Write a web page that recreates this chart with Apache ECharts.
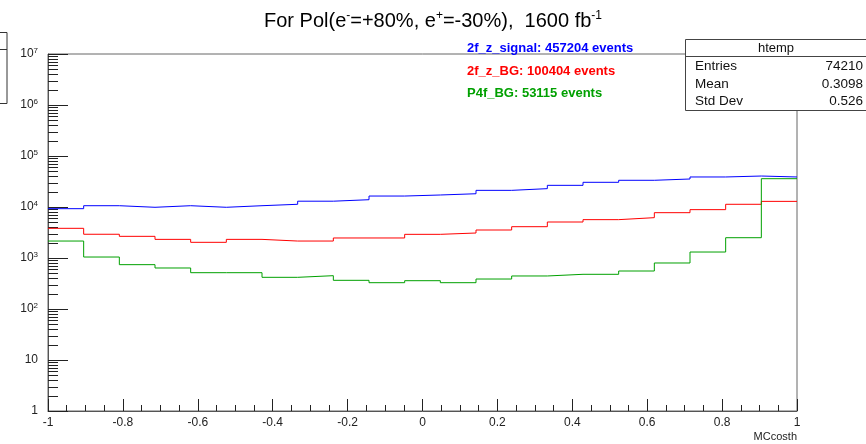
<!DOCTYPE html>
<html>
<head>
<meta charset="utf-8">
<script src="https://cdn.jsdelivr.net/npm/echarts@6/dist/echarts.min.js"></script>
<style>html,body{margin:0;padding:0;background:#fff;}#c{width:866px;height:444px;}</style>
</head>
<body>
<div id="c"></div>
<script>
// ---- data ----
const xMin = -1, xMax = 1, nBins = 21;
const xTickLabels = ['-1', '-0.8', '-0.6', '-0.4', '-0.2', '0', '0.2', '0.4', '0.6', '0.8', '1'];
const signal = [9270, 10600, 9870, 10600, 9870, 10600, 11300, 13000, 13900, 16400, 17200, 18200, 21200, 22900, 26600, 30500, 33400, 35400, 38800, 40500, 38800];
const zBG = [3820, 2920, 2660, 2320, 2030, 2320, 2150, 2150, 2470, 2470, 2910, 3090, 3540, 4110, 5080, 5650, 6180, 7740, 8870, 11300, 12900];
const p4fBG = [2150, 1045, 740, 637, 515, 515, 418, 450, 365, 328, 359, 328, 387, 444, 479, 479, 556, 798, 1310, 2500, 35900];
const legendTexts = ['2f_z_signal: 457204 events', '2f_z_BG: 100404 events', 'P4f_BG: 53115 events'];
const statNames = ['Entries', 'Mean', 'Std Dev'];
const statValues = ['74210', '0.3098', '0.526'];

const FONT = '"Liberation Sans", Arial, Helvetica, sans-serif';
const edges = [];
for (let i = 0; i <= nBins; i++) edges.push(xMin + (xMax - xMin) * i / nBins);
function stepData(vals) {
  return edges.map((e, i) => [e, vals[Math.min(i, vals.length - 1)]]);
}
const yMinor = [];
for (let n = 0; n < 7; n++) for (let k = 2; k <= 9; k++) yMinor.push([xMin, k * Math.pow(10, n)]);

const chart = echarts.init(document.getElementById('c'), null, {renderer: 'canvas'});
const colors = ['#0000ff', '#ff0000', '#00a000'];

const option = {
  animation: false,
  backgroundColor: '#ffffff',
  title: {
    text: 'For Pol(e{s|-}=+80%, e{s|+}=-30%),  1600 fb{s|-1}',
    left: 'center', top: 5,
    textStyle: {
      fontFamily: FONT, fontSize: 20, fontWeight: 'normal', color: '#000',
      rich: { s: { fontFamily: FONT, fontSize: 12, padding: [0, 0, 10, 0], color: '#000' } }
    }
  },
  grid: { left: 48, right: 69, top: 54, bottom: 33, show: true, borderColor: '#666', borderWidth: 1 },
  xAxis: {
    type: 'value', min: xMin, max: xMax, interval: 0.2,
    axisLine: { onZero: false, lineStyle: { color: '#555', width: 1 } },
    axisTick: { inside: true, length: 12, lineStyle: { color: '#222' } },
    minorTick: { show: true, splitNumber: 4, length: 6, lineStyle: { color: '#222' } },
    splitLine: { show: false },
    axisLabel: {
      color: '#222', fontFamily: FONT, fontSize: 12, margin: 6,
      formatter: v => xTickLabels[Math.round((v - xMin) / 0.2)]
    }
  },
  yAxis: {
    type: 'log', logBase: 10, min: 1, max: 1e7,
    axisLine: { onZero: false, lineStyle: { color: '#555', width: 1 } },
    axisTick: { inside: true, length: 20, lineStyle: { color: '#222' } },
    splitLine: { show: false },
    axisLabel: {
      color: '#222', fontFamily: FONT, fontSize: 12, margin: 10,
      formatter: v => {
        const n = Math.round(Math.log10(v));
        if (n === 0) return '1';
        if (n === 1) return '10';
        return '{b|10}{s|' + n + '}';
      },
      rich: {
        b: { fontFamily: FONT, fontSize: 12, color: '#222' },
        s: { fontFamily: FONT, fontSize: 8, color: '#222', padding: [0, 0, 7, 0] }
      }
    }
  },
  series: [
    { type: 'line', step: 'end', data: stepData(signal), symbol: 'none', lineStyle: { color: colors[0], width: 1 }, z: 3 },
    { type: 'line', step: 'end', data: stepData(zBG), symbol: 'none', lineStyle: { color: colors[1], width: 1 }, z: 3 },
    { type: 'line', step: 'end', data: stepData(p4fBG), symbol: 'none', lineStyle: { color: colors[2], width: 1 }, z: 3 },
    {
      type: 'custom', data: yMinor, silent: true, clip: false, z: 2,
      renderItem: (params, api) => {
        const p = api.coord([api.value(0), api.value(1)]);
        return { type: 'line', shape: { x1: p[0], y1: Math.round(p[1]) + 0.5, x2: p[0] + 10, y2: Math.round(p[1]) + 0.5 }, style: { stroke: '#222', lineWidth: 1 } };
      }
    }
  ],
  graphic: [
    // partial box at the top-left edge
    { type: 'rect', shape: { x: -10, y: 32.5, width: 17, height: 71 }, style: { fill: '#fff', stroke: '#333', lineWidth: 1 } },
    { type: 'line', shape: { x1: -10, y1: 49.5, x2: 7, y2: 49.5 }, style: { stroke: '#333', lineWidth: 1 } },
    // legend texts
    { type: 'text', z: 10, style: { text: legendTexts[0], x: 467, y: 48, fill: colors[0], font: 'bold 13px ' + FONT, verticalAlign: 'middle' } },
    { type: 'text', z: 10, style: { text: legendTexts[1], x: 467, y: 71, fill: colors[1], font: 'bold 13px ' + FONT, verticalAlign: 'middle' } },
    { type: 'text', z: 10, style: { text: legendTexts[2], x: 467, y: 93, fill: colors[2], font: 'bold 13px ' + FONT, verticalAlign: 'middle' } },
    // stats box
    { type: 'rect', z: 10, shape: { x: 685.5, y: 39.5, width: 190, height: 71 }, style: { fill: '#fff', stroke: '#444', lineWidth: 1 } },
    { type: 'line', z: 11, shape: { x1: 685.5, y1: 56.5, x2: 866, y2: 56.5 }, style: { stroke: '#444', lineWidth: 1 } },
    { type: 'text', z: 11, style: { text: 'htemp', x: 776, y: 48, fill: '#111', font: '13px ' + FONT, align: 'center', verticalAlign: 'middle' } },
    ...statNames.map((t, i) => ({ type: 'text', z: 11, style: { text: t, x: 695, y: 66.5 + i * 17.5, fill: '#111', font: '13.5px ' + FONT, verticalAlign: 'middle' } })),
    ...statValues.map((t, i) => ({ type: 'text', z: 11, style: { text: t, x: 863, y: 66.5 + i * 17.5, fill: '#111', font: '13.5px ' + FONT, align: 'right', verticalAlign: 'middle' } })),
    // axis title
    { type: 'text', z: 10, style: { text: 'MCcosth', x: 797, y: 437, fill: '#222', font: '11px ' + FONT, align: 'right', verticalAlign: 'middle' } }
  ]
};
chart.setOption(option);
</script>
</body>
</html>
